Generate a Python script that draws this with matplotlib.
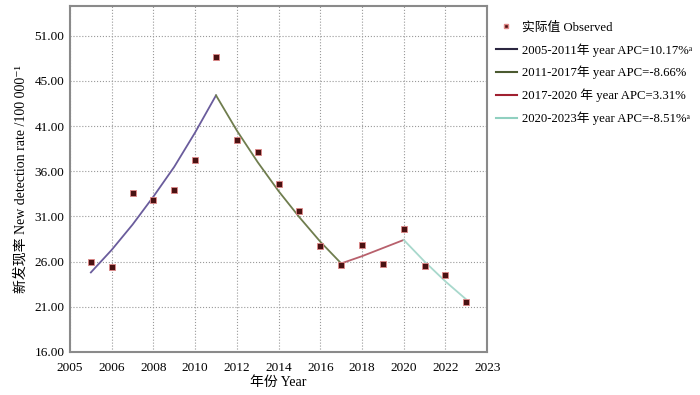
import matplotlib
matplotlib.use("Agg")
import matplotlib.pyplot as plt
from matplotlib.lines import Line2D

plt.rcParams['font.family'] = ['Liberation Serif', 'Noto Sans CJK SC', 'DejaVu Sans']

years = list(range(2005, 2024))
observed = [26.0, 25.4, 33.6, 32.8, 33.9, 37.3, 48.6, 39.5, 38.1, 34.6,
            31.6, 27.7, 25.6, 27.8, 25.7, 29.6, 25.5, 24.5, 21.5]
fitted = [24.8, 27.3, 30.1, 33.2, 36.5, 40.3, 44.4, 40.5, 37.0, 33.8,
          30.9, 28.2, 25.8, 26.6, 27.5, 28.4, 26.0, 23.8, 21.8]
segments = [(2005, 2011), (2011, 2017), (2017, 2020), (2020, 2023)]
seg_labels = ["2005-2011年 year APC=10.17%ᵃ",
              "2011-2017年 year APC=-8.66%",
              "2017-2020 年 year APC=3.31%",
              "2020-2023年 year APC=-8.51%ᵃ"]
seg_colors = ['#6a5c9c', '#6f7d4e', '#b8606c', '#a8d8cc']
legend_colors = ['#2b2640', '#4b5a30', '#a02030', '#90d0c0']

xtick_pos = [2004, 2006, 2008, 2010, 2012, 2014, 2016, 2018, 2020, 2022, 2024]
xtick_labels = ['2005', '2006', '2008', '2010', '2012', '2014', '2016',
                '2018', '2020', '2022', '2023']
ytick_pos = [16, 21, 26, 31, 36, 41, 46, 51]
ytick_labels = ['16.00', '21.00', '26.00', '31.00', '36.00', '41.00', '45.00', '51.00']

fig = plt.figure(figsize=(7, 3.95), dpi=100)
ax = fig.add_axes([0.1, 0.109, 0.596, 0.876])

for (a, b), c in zip(segments, seg_colors):
    i0, i1 = years.index(a), years.index(b)
    ax.plot(years[i0:i1 + 1], fitted[i0:i1 + 1], color=c, lw=1.3, zorder=2)

ax.scatter(years, observed, marker='s', s=16, facecolor='#4a1212',
           edgecolor='#e08888', linewidth=0.6, zorder=3)

ax.set_xlim(2004, 2024)
ax.set_ylim(16, 54.3)
ax.set_xticks(xtick_pos)
ax.set_xticklabels(xtick_labels)
ax.set_yticks(ytick_pos)
ax.set_yticklabels(ytick_labels)
ax.tick_params(length=0, labelsize=9.5)
ax.tick_params(axis='x', pad=7)
ax.tick_params(axis='y', pad=4)
ax.grid(True, linestyle=':', color='#999999', lw=0.8)
for s in ax.spines.values():
    s.set_color('#8a8a8a')
    s.set_linewidth(1.5)

ax.set_xlabel("年份 Year", fontsize=10, labelpad=2)
ax.set_ylabel("新发现率 New detection rate /100 000⁻¹", fontsize=10, labelpad=5)

handles = [Line2D([], [], marker='s', ls='none', markersize=3.5,
                  markerfacecolor='#4a1212', markeredgecolor='#e08888')]
handles += [Line2D([], [], color=c, lw=1.5) for c in legend_colors]
fig.legend(handles, ["实际值 Observed"] + seg_labels, loc='upper left',
           bbox_to_anchor=(0.698, 0.965), frameon=False, fontsize=9.2,
           handlelength=1.6, handletextpad=0.4, labelspacing=0.72,
           borderaxespad=0.2)

fig.savefig("out.png", dpi=100)
